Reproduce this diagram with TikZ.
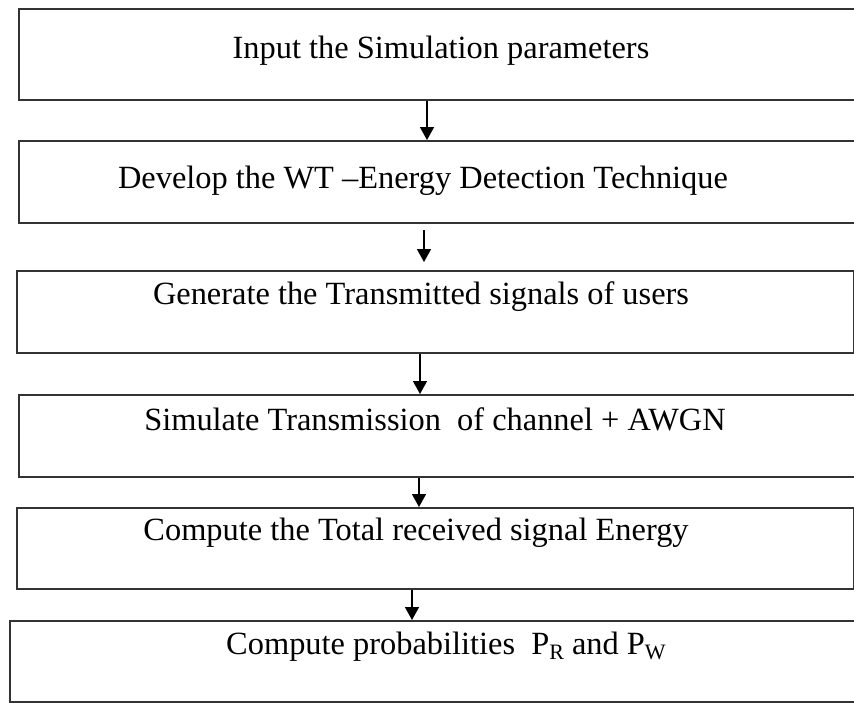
\documentclass[tikz,border=0pt]{standalone}
\usepackage{fontspec}
\setmainfont{Liberation Serif}
\usetikzlibrary{arrows.meta}
\tikzset{
  stepbox/.style={draw=black!80, line width=2pt, rectangle, inner sep=0pt, anchor=north west},
  steptext/.style={inner sep=0pt, font=\fontsize{32.4}{38}\selectfont, text=black},
  arr/.style={draw=black, line width=1.6pt, -{Triangle[length=13pt,width=14pt]}},
}
\newcommand{\subs}[1]{\raisebox{-0.3ex}{\fontsize{22}{25}\selectfont #1}}
\begin{document}
\begin{tikzpicture}[x=1pt,y=-1pt]
\useasboundingbox (0,0) rectangle (854,702);
\fill[white] (0,0) rectangle (854,702);

% process boxes (top-left corner, size)
\node[stepbox, minimum width=860pt, minimum height=91pt] (b1) at (18,8) {};
\node[stepbox, minimum width=860pt, minimum height=82pt] (b2) at (18,140) {};
\node[stepbox, minimum width=837pt, minimum height=82pt] (b3) at (16,270) {};
\node[stepbox, minimum width=860pt, minimum height=82pt] (b4) at (18,394) {};
\node[stepbox, minimum width=837pt, minimum height=81pt] (b5) at (16,507) {};
\node[stepbox, minimum width=870pt, minimum height=81pt] (b6) at (9,620) {};

% step labels
\node[steptext] (t1) at (441,51) {Input the Simulation parameters};
\node[steptext] (t2) at (423,181) {Develop the WT \textendash Energy Detection Technique};
\node[steptext] (t3) at (421,297) {Generate the Transmitted signals of users};
\node[steptext] (t4) at (435,419) {Simulate Transmission\ \ of channel + AWGN};
\node[steptext] (t5) at (416,533) {Compute the Total received signal Energy};
\node[steptext] (t6) at (446,647) {Compute probabilities\ \ P\subs{R} and P\subs{W}};

% arrow columns
\coordinate (c1) at (427,0);
\coordinate (c2) at (424,0);
\coordinate (c3) at (420,0);
\coordinate (c4) at (419,0);
\coordinate (c5) at (412,0);

\draw[arr] (b1.south -| c1) -- (b2.north -| c1);
\draw[arr, shorten <=6pt, shorten >=8pt] (b2.south -| c2) -- (b3.north -| c2);
\draw[arr] (b3.south -| c3) -- (b4.north -| c3);
\draw[arr] (b4.south -| c4) -- (b5.north -| c4);
\draw[arr] (b5.south -| c5) -- (b6.north -| c5);
\end{tikzpicture}
\end{document}
